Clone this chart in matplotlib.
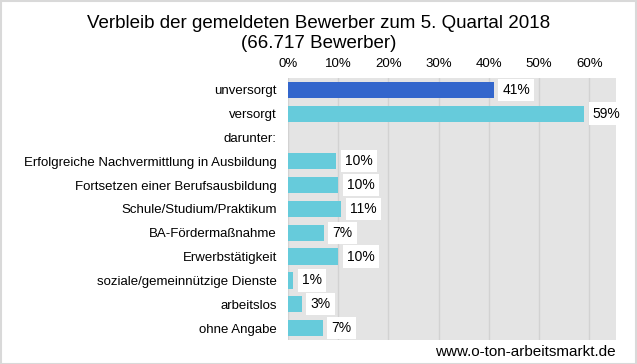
import numpy as np
import matplotlib.pyplot as plt
from matplotlib.patches import Rectangle

plt.rcParams['font.family'] = ['Liberation Sans', 'DejaVu Sans']

categories = ['unversorgt', 'versorgt', 'darunter:',
              'Erfolgreiche Nachvermittlung in Ausbildung',
              'Fortsetzen einer Berufsausbildung',
              'Schule/Studium/Praktikum',
              'BA-Fördermaßnahme',
              'Erwerbstätigkeit',
              'soziale/gemeinnützige Dienste',
              'arbeitslos',
              'ohne Angabe']
values = [41.0, 59.0, None, 9.6, 10.0, 10.6, 7.2, 10.0, 1.1, 2.8, 7.0]
labels = ['41%', '59%', '', '10%', '10%', '11%', '7%', '10%', '1%', '3%', '7%']
ticks = [0, 10, 20, 30, 40, 50, 60]

dark = '#3366cc'
light = '#66cbdb'

fig = plt.figure(figsize=(6.37, 3.64), dpi=100)
ax = fig.add_axes([0.452, 0.066, 0.515, 0.72])
ax.set_facecolor('#e4e4e4')

y = np.arange(len(categories))
for i, v in enumerate(values):
    if v is None:
        continue
    ax.barh(i, v, height=0.68, color=dark if i == 0 else light, zorder=3)
    ax.text(v + 1.7, i, labels[i], va='center', ha='left', fontsize=10,
            zorder=4, bbox=dict(boxstyle='square,pad=0.3', fc='white', ec='none'))

ax.set_xlim(0, 65.3)
ax.set_ylim(len(categories) - 0.5, -0.5)
ax.set_yticks(y)
ax.set_yticklabels(categories, fontsize=9.5)
ax.set_xticks(ticks)
ax.set_xticklabels([f'{t}%' for t in ticks], fontsize=9.5)
ax.xaxis.tick_top()
ax.tick_params(length=0, pad=6)
ax.tick_params(axis='y', pad=8)
ax.grid(axis='x', color='#d2d2d2', linewidth=1, zorder=0)
for s in ax.spines.values():
    s.set_visible(False)

fig.text(0.5, 0.935, 'Verbleib der gemeldeten Bewerber zum 5. Quartal 2018',
         ha='center', va='center', fontsize=13.5)
fig.text(0.5, 0.88, '(66.717 Bewerber)', ha='center', va='center', fontsize=13.5)
fig.text(0.967, 0.033, 'www.o-ton-arbeitsmarkt.de', ha='right', va='center', fontsize=11)

fig.patches.append(Rectangle((0.001, 0.001), 0.997, 0.997, transform=fig.transFigure,
                             fill=False, ec='#d9d9d9', lw=1.5))

fig.savefig('out.png', dpi=100)
